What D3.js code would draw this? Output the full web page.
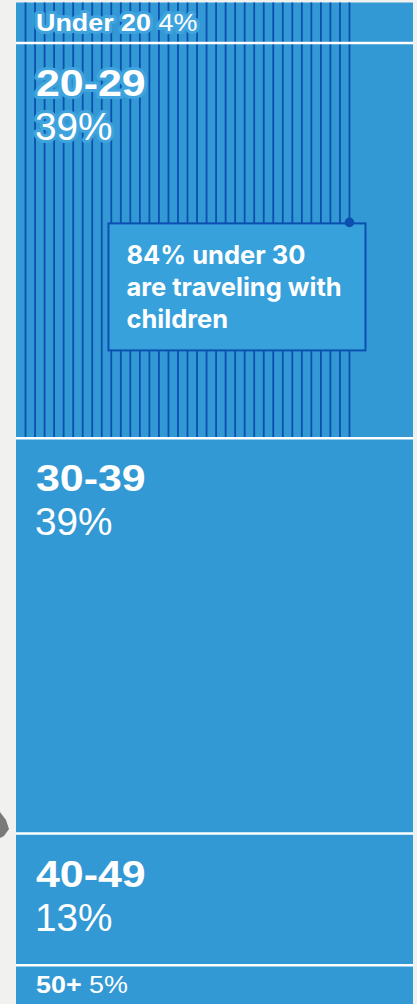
<!DOCTYPE html>
<html>
<head>
<meta charset="utf-8">
<script src="https://cdn.jsdelivr.net/npm/d3@7"></script>
<style>
  html, body { margin: 0; padding: 0; background: #f1f1f0; }
  svg { display: block; }
</style>
</head>
<body>
<div id="chart"></div>
<script>
// ---- data ----
const categories = ["Under 20", "20-29", "30-39", "40-49", "50+"];
const shares = [4, 39, 39, 13, 5];            // % of travelers
const labelSizes = ["small", "large", "large", "large", "small"];
const underThirtyWithChildren = 84;           // % of under-30 travelers with children
const stripeCount = 35;
const annotationLines = ["84% under 30", "are traveling with", "children"];

// ---- layout ----
const W = 417, H = 1004;
const svg = d3.select("#chart").append("svg").attr("width", W).attr("height", H);

const x = d3.scaleLinear().domain([0, 100]).range([16, 413]);
const y = d3.scaleLinear().domain([0, 100]).range([2.5, 1016]);

const BAR = "#3399d4", STRIPE = "#0b4fb0", HALO = "#3fa3dd";

// background decoration
svg.append("rect").attr("width", W).attr("height", H).attr("fill", "#f1f1f0");
svg.append("path").attr("d", "M0,812 L6,820 L9,829 L4,836 L0,838 Z").attr("fill", "#7a7a7a");

let cum = 0;
const segs = shares.map((v, i) => {
  const s = { cat: categories[i], v, c0: cum, c1: cum + v, size: labelSizes[i] };
  cum += v;
  return s;
});

// bars
svg.selectAll("rect.seg").data(segs).join("rect")
  .attr("class", "seg")
  .attr("x", x(0))
  .attr("width", x(100) - x(0))
  .attr("y", d => y(d.c0))
  .attr("height", d => y(d.c1) - y(d.c0))
  .attr("fill", BAR);

// stripes for under 30
const under30 = shares[0] + shares[1];
const stripeX = d3.range(1, stripeCount + 1).map(i => x(underThirtyWithChildren * i / stripeCount));
svg.selectAll("line.stripe").data(stripeX).join("line")
  .attr("class", "stripe")
  .attr("x1", d => d).attr("x2", d => d)
  .attr("y1", y(0)).attr("y2", y(under30))
  .attr("stroke", STRIPE).attr("stroke-width", 1.8);

// separators
svg.selectAll("line.sep").data(segs.slice(1)).join("line")
  .attr("class", "sep")
  .attr("x1", x(0)).attr("x2", x(100))
  .attr("y1", d => y(d.c0)).attr("y2", d => y(d.c0))
  .attr("stroke", "#ffffff").attr("stroke-width", 2.5);

// labels
const font = "'Liberation Sans', Arial, sans-serif";
segs.forEach((d, i) => {
  const striped = d.c1 <= under30;
  const top = y(d.c0);
  const style = t => {
    t.attr("fill", "#fff").attr("font-family", font);
    if (striped) t.attr("stroke", HALO).attr("stroke-width", 6)
      .attr("stroke-linejoin", "round").attr("paint-order", "stroke");
    return t;
  };
  if (d.size === "small") {
    const t = style(svg.append("text")
      .attr("transform", `translate(36,${top + 28}) scale(1.12,1)`)
      .attr("font-size", 24));
    t.append("tspan").attr("font-weight", 700).text(d.cat);
    t.append("tspan").attr("font-weight", 400).text(" " + d.v + "%");
  } else {
    style(svg.append("text")
      .attr("transform", `translate(36,${top + 53}) scale(1.16,1)`)
      .attr("font-size", 37).attr("font-weight", 700)
      .text(d.cat));
    style(svg.append("text")
      .attr("transform", `translate(35,${top + 97}) scale(1.02,1)`)
      .attr("font-size", 38).attr("font-weight", 400)
      .text(d.v + "%"));
  }
});

// annotation
const ax = x(underThirtyWithChildren), ay = y(under30 / 2) + 2;
const box = { x: ax - 241, y: ay + 1, w: 257, h: 127 };
svg.append("rect")
  .attr("x", box.x).attr("y", box.y).attr("width", box.w).attr("height", box.h)
  .attr("fill", "#37a1dc").attr("stroke", STRIPE).attr("stroke-width", 2);
svg.append("circle").attr("cx", ax).attr("cy", ay).attr("r", 4.8).attr("fill", STRIPE);
svg.append("g").selectAll("text").data(annotationLines).join("text")
  .attr("x", box.x + 18)
  .attr("y", (d, i) => box.y + 41 + i * 32)
  .attr("fill", "#fff")
  .attr("font-family", "Inter, 'Noto Sans', sans-serif")
  .attr("font-weight", 700)
  .attr("font-size", 25.5)
  .text(d => d);
</script>
</body>
</html>
